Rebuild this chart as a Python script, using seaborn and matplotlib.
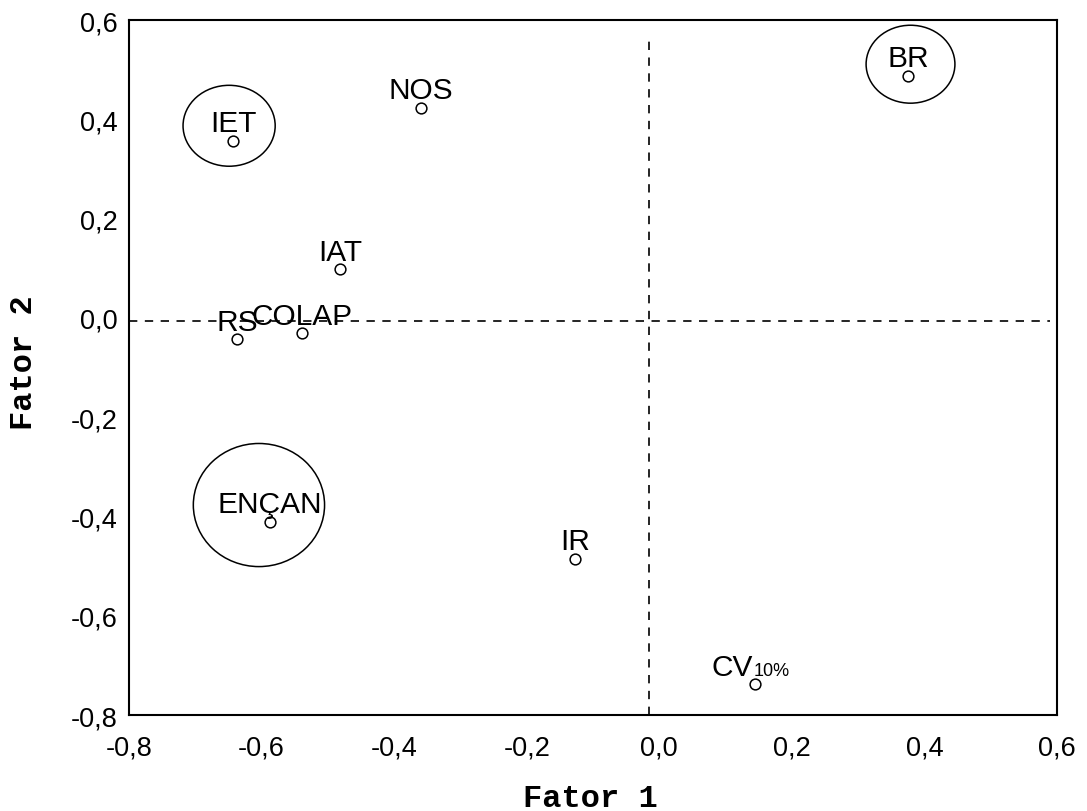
import matplotlib
matplotlib.use('Agg')
import matplotlib.pyplot as plt
from matplotlib.patches import Ellipse
import pandas as pd
import seaborn as sns

# Factor loadings
variables = ['BR', 'IET', 'NOS', 'IAT', 'RS', 'COLAP', 'ENÇAN', 'IR', 'CV']
fator1 = [0.375, -0.643, -0.360, -0.482, -0.637, -0.539, -0.587, -0.127, 0.144]
fator2 = [0.488, 0.356, 0.423, 0.098, -0.043, -0.031, -0.411, -0.486, -0.738]

# highlighted groups (center x, center y, width, height) in data units
circled = {
    'BR': (0.379, 0.511, 0.134, 0.157),
    'IET': (-0.649, 0.387, 0.139, 0.163),
    'ENÇAN': (-0.604, -0.377, 0.198, 0.248),
}

ticks = [-0.8, -0.6, -0.4, -0.2, 0.0, 0.2, 0.4, 0.6]
tick_labels = ['-0,8', '-0,6', '-0,4', '-0,2', '0,0', '0,2', '0,4', '0,6']

# reference (dashed) lines
vline_x = -0.015
hline_y = -0.006

df = pd.DataFrame({'var': variables, 'f1': fator1, 'f2': fator2})

sns.set_style('white')
plt.rcParams['font.family'] = ['Liberation Sans', 'DejaVu Sans']
plt.rcParams['text.color'] = 'black'
plt.rcParams['axes.labelcolor'] = 'black'

fig = plt.figure(figsize=(10.87, 8.12), dpi=100)
ax = fig.add_axes([0.1187, 0.1182, 0.8537, 0.8559])

ax.plot([vline_x, vline_x], [-0.8, 0.57], ls=(0, (5, 4.5)), color='black', lw=1.2)
ax.plot([-0.8, 0.59], [hline_y, hline_y], ls=(0, (5, 4.5)), color='black', lw=1.2)

sns.scatterplot(data=df, x='f1', y='f2', ax=ax, s=60, facecolor='white',
                edgecolor='black', linewidth=1.1, zorder=3)

for name, x, y in zip(variables, fator1, fator2):
    if name == 'CV':
        ax.annotate('CV', (x, y), xytext=(-1.5, 7), textcoords='offset points',
                    ha='right', va='baseline', fontsize=21.5)
        ax.annotate('10%', (x, y), xytext=(-0.5, 7), textcoords='offset points',
                    ha='left', va='baseline', fontsize=13)
    else:
        ax.annotate(name, (x, y), xytext=(0, 7), textcoords='offset points',
                    ha='center', va='baseline', fontsize=21.5)

for name, (cx, cy, w, h) in circled.items():
    ax.add_patch(Ellipse((cx, cy), w, h, fill=False, edgecolor='black', lw=1.1))

ax.set_xlim(-0.8, 0.6)
ax.set_ylim(-0.8, 0.6)
ax.set_xticks(ticks)
ax.set_xticklabels(tick_labels)
ax.set_yticks(ticks)
ax.set_yticklabels(tick_labels)
ax.tick_params(axis='both', length=0, labelsize=19.5, colors='black')
ax.tick_params(axis='x', pad=14)
ax.tick_params(axis='y', pad=8)

for sp in ax.spines.values():
    sp.set_color('black')
    sp.set_linewidth(1.5)

ax.set_xlabel('Fator 1', fontsize=23, fontweight='bold', family='Liberation Mono')
ax.set_ylabel('Fator 2', fontsize=23, fontweight='bold', family='Liberation Mono')
ax.xaxis.label.set_va('center')
ax.yaxis.label.set_va('center')
ax.xaxis.set_label_coords(0.497, -0.119)
ax.yaxis.set_label_coords(-0.1133, 0.509)

fig.savefig('out.png', dpi=100)
